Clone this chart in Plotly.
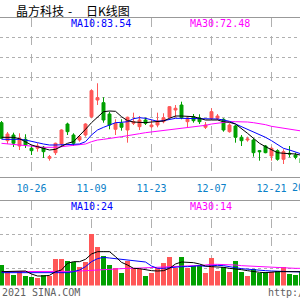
import plotly.graph_objects as go

# ---------------- data ----------------
idx = list(range(51))
tick_idx = [5, 15, 25, 35, 45]
tick_text = ["10-26", "11-09", "11-23", "12-07", "12-21"]

opens = [73.58, 69.08, 70.50, 67.75, 69.43, 67.18, 67.18, 67.43, 64.68, 66.08,
         68.25, 73.25, 70.50, 69.25, 70.50, 75.08, 79.25, 78.58, 75.75, 71.93,
         73.43, 71.75, 73.43, 72.58, 74.25, 72.58, 73.00, 73.83, 74.93, 76.75,
         78.00, 73.83, 75.08, 74.75, 72.43, 74.68, 74.68, 74.43, 71.33, 72.75,
         69.93, 69.25, 69.25, 66.58, 67.75, 65.25, 66.58, 64.43, 65.93, 65.50,
         64.68]
closes = [69.68, 70.75, 68.43, 69.68, 68.00, 66.58, 67.75, 66.33, 65.08, 68.43,
          71.75, 71.33, 68.43, 70.08, 73.25, 81.58, 79.83, 74.25, 73.00, 73.43,
          72.43, 74.93, 73.83, 74.25, 73.43, 73.00, 74.00, 74.83, 77.58, 77.18,
          74.83, 74.43, 74.08, 73.83, 73.00, 76.33, 75.25, 71.75, 73.00, 69.93,
          69.08, 69.50, 66.08, 66.33, 66.08, 67.18, 64.43, 66.33, 65.75, 64.93,
          63.50]
highs = [74.00, 71.25, 71.08, 70.93, 70.68, 67.75, 68.43, 67.75, 65.50, 68.58,
         71.93, 73.58, 70.93, 70.50, 73.43, 81.93, 83.43, 79.93, 76.33, 74.43,
         74.43, 75.08, 76.08, 75.25, 74.83, 74.25, 76.08, 75.93, 77.75, 78.00,
         78.83, 75.08, 75.75, 75.68, 73.75, 77.18, 75.75, 74.68, 73.43, 73.00,
         70.50, 70.08, 69.68, 66.75, 68.00, 67.58, 66.93, 66.93, 67.75, 66.08,
         65.25]
lows = [69.50, 68.25, 67.50, 66.75, 67.25, 65.50, 66.33, 64.75, 64.08, 65.50,
        67.75, 70.50, 67.75, 68.83, 70.08, 74.68, 78.00, 73.58, 71.93, 70.50,
        71.58, 68.58, 73.00, 71.75, 73.00, 72.18, 72.43, 73.43, 74.68, 74.93,
        74.43, 72.43, 73.58, 73.25, 72.00, 74.25, 74.25, 71.33, 71.08, 68.58,
        67.75, 68.83, 65.08, 64.08, 65.93, 64.08, 64.08, 63.25, 64.93, 64.43,
        63.00]

ma5 = [69.92, 69.92, 69.92, 69.58, 68.83, 68.00, 67.58, 67.17, 66.75, 66.92,
       67.75, 68.42, 68.83, 70.25, 71.92, 73.58, 74.92, 76.33, 76.50, 76.42,
       75.08, 74.08, 73.75, 73.58, 73.58, 73.75, 73.92, 74.00, 74.67, 75.25,
       75.25, 75.25, 75.08, 74.67, 74.25, 74.25, 74.25, 73.83, 73.67, 73.25,
       72.17, 70.92, 69.67, 68.42, 67.58, 66.75, 66.08, 65.92, 65.92, 65.75,
       65.42]
ma10 = [69.42, 69.42, 69.58, 69.42, 69.25, 68.83, 68.58, 68.25, 68.00, 68.00,
        68.00, 68.08, 68.17, 68.25, 68.83, 70.50, 71.75, 72.42, 73.00, 73.58,
        73.67, 73.83, 74.58, 74.83, 74.67, 74.25, 73.92, 74.08, 74.42, 74.67,
        74.67, 74.67, 74.58, 74.50, 74.67, 74.58, 74.50, 74.25, 73.92, 73.25,
        72.58, 71.92, 71.33, 70.58, 69.92, 69.08, 68.08, 67.17, 66.75, 66.17,
        65.75]
ma30 = [68.42, 68.25, 68.17, 67.92, 67.75, 67.58, 67.58, 67.42, 67.33, 67.42,
        67.58, 67.75, 67.92, 68.00, 68.25, 68.83, 69.25, 69.42, 69.58, 69.83,
        70.08, 70.33, 70.67, 70.83, 71.08, 71.25, 71.50, 71.67, 71.92, 72.08,
        72.17, 72.33, 72.50, 72.67, 72.92, 73.25, 73.50, 73.67, 73.83, 73.83,
        73.83, 73.75, 73.58, 73.42, 73.08, 72.67, 72.42, 72.17, 71.92, 71.67,
        71.50]

volume = [12.06, 8.12, 6.18, 8.12, 5.59, 4.82, 4.59, 6.18, 5.59, 15.59,
          15.59, 14.41, 14.00, 11.06, 14.00, 30.12, 22.82, 17.35, 12.06, 10.12,
          7.53, 14.41, 10.12, 9.53, 5.59, 7.53, 10.12, 13.41, 16.94, 10.12,
          16.94, 10.12, 11.65, 12.06, 7.53, 16.35, 8.71, 11.06, 8.12, 14.41,
          8.12, 5.59, 9.71, 7.53, 8.12, 8.12, 8.53, 11.06, 6.76, 6.18,
          7.94]
vma5 = [8.14, 8.14, 8.33, 8.53, 8.53, 6.76, 5.59, 5.59, 5.98, 8.14,
        9.12, 13.04, 14.02, 14.02, 15.39, 18.53, 19.90, 19.90, 19.90, 16.96,
        13.63, 12.06, 10.10, 9.90, 9.12, 8.73, 8.53, 8.73, 10.10, 12.65,
        13.82, 13.82, 13.43, 12.65, 11.47, 11.08, 11.08, 10.69, 10.10, 9.90,
        9.31, 8.73, 8.14, 7.75, 7.55, 7.94, 8.14, 8.14, 8.14, 8.14,
        8.14]
vma10 = [7.55, 7.55, 7.55, 7.35, 7.16, 7.16, 7.16, 7.16, 7.16, 7.55,
         7.55, 7.55, 8.14, 9.12, 11.08, 14.02, 15.78, 16.57, 16.18, 15.78,
         15.39, 15.20, 15.00, 14.41, 13.82, 11.47, 10.10, 10.10, 10.49, 10.88,
         11.08, 11.08, 11.47, 11.67, 11.27, 11.67, 11.86, 11.67, 11.27, 10.49,
         9.90, 9.51, 9.12, 8.92, 8.73, 8.53, 8.33, 8.33, 8.14, 8.14,
         7.94]
vma30 = [8.14, 8.14, 8.14, 8.14, 7.94, 7.94, 7.94, 7.94, 7.94, 7.94,
         8.14, 8.14, 8.33, 8.53, 8.73, 9.12, 9.51, 9.71, 9.90, 10.10,
         10.10, 10.10, 10.10, 10.29, 10.49, 10.69, 10.88, 11.08, 11.08, 11.27,
         11.47, 11.47, 11.67, 11.67, 12.25, 12.45, 12.45, 12.45, 12.25, 12.06,
         11.67, 11.47, 11.27, 11.08, 10.69, 10.49, 10.29, 10.10, 10.10, 10.10,
         10.10]

price_grid = [65, 70, 75, 80, 85, 90, 95]
vol_grid = [10, 20, 30, 40]

title_name = "晶方科技"
title_kind = "日K线图"
ma_price_labels = ["MA10:83.54", "MA30:72.48"]
ma_vol_labels = ["MA10:24", "MA30:14"]

# ---------------- style ----------------
RED = "#ff5757"
GREEN = "#00a000"
W, H = 300, 300
MONO = "DejaVu Sans Mono"


def px_x(p):
    return p / W


def px_y(p):
    return 1 - p / H


main_top, main_bot = 18, 176.5
vol_top, vol_bot = 201, 285.5

fig = go.Figure()

fig.add_trace(go.Candlestick(
    x=idx, open=opens, high=highs, low=lows, close=closes,
    increasing=dict(line=dict(color=RED, width=1), fillcolor=RED),
    decreasing=dict(line=dict(color=GREEN, width=1), fillcolor=GREEN),
    whiskerwidth=0, xaxis="x", yaxis="y", showlegend=False, hoverinfo="skip"))

for series, col in [(ma30, "#ff00ff"), (ma10, "#0000ff"), (ma5, "#000000")]:
    fig.add_trace(go.Scatter(x=idx, y=series, mode="lines",
                             line=dict(color=col, width=1),
                             xaxis="x", yaxis="y", showlegend=False, hoverinfo="skip"))

vol_colors = [RED if c >= o else GREEN for o, c in zip(opens, closes)]
fig.add_trace(go.Bar(x=idx, y=volume, width=0.82, marker=dict(color=vol_colors, line=dict(width=0)),
                     xaxis="x2", yaxis="y2", showlegend=False, hoverinfo="skip"))
for series, col in [(vma30, "#ff00ff"), (vma10, "#0000ff"), (vma5, "#000000")]:
    fig.add_trace(go.Scatter(x=idx, y=series, mode="lines",
                             line=dict(color=col, width=1),
                             xaxis="x2", yaxis="y2", showlegend=False, hoverinfo="skip"))

xr = [-0.25, 49.75]
grid_col = "#b0b0b0"
line_col = "#999999"
price_lo = 104.25 - main_bot / 4
price_hi = 104.25 - main_top / 4
vol_hi = (vol_bot - vol_top) / 1.7

fig.update_layout(
    width=W, height=H, autosize=False,
    margin=dict(l=0, r=0, t=0, b=0),
    paper_bgcolor="white", plot_bgcolor="white",
    boxgap=0.3,
    bargap=0,
    xaxis=dict(domain=[0, 1], range=xr, anchor="y", rangeslider=dict(visible=False),
               tickvals=tick_idx, ticktext=tick_text, ticks="",
               tickfont=dict(family=MONO, size=10, color="#0a80c8"),
               ticklabelstandoff=2,
               showgrid=True, gridcolor=grid_col, griddash="dash", gridwidth=1,
               showline=True, linecolor=line_col, linewidth=1, mirror=True,
               zeroline=False, fixedrange=True),
    yaxis=dict(domain=[px_y(main_bot), px_y(main_top)], range=[price_lo, price_hi],
               tickvals=price_grid, showticklabels=False, ticks="",
               showgrid=True, gridcolor=grid_col, griddash="dot", gridwidth=1,
               zeroline=False, showline=False, fixedrange=True),
    xaxis2=dict(domain=[0, 1], range=xr, anchor="y2", side="top",
                tickvals=tick_idx, showticklabels=False, ticks="",
                showgrid=True, gridcolor=grid_col, griddash="dash", gridwidth=1,
                showline=True, linecolor=line_col, linewidth=1,
                zeroline=False, fixedrange=True),
    yaxis2=dict(domain=[px_y(vol_bot), px_y(vol_top)], range=[0, vol_hi],
                tickvals=vol_grid, showticklabels=False, ticks="",
                showgrid=True, gridcolor=grid_col, griddash="dot", gridwidth=1,
                zeroline=False, showline=False, fixedrange=True),
)


def ann(text, x, y, color="#000000", size=10, family=MONO, anchor="left"):
    fig.add_annotation(text=text, x=px_x(x), y=px_y(y), xref="paper", yref="paper",
                       xanchor=anchor, yanchor="middle", showarrow=False,
                       font=dict(family=family, size=size, color=color))


CJK = "Noto Sans CJK SC"
ann(title_name, 14, 11, size=12, family=CJK)
ann("-", 69.5, 11, size=12, family=CJK, anchor="center")
ann(title_kind, 84, 11, size=12, family=CJK)

ann(ma_price_labels[0], 69, 23.5, color="#0000ff")
ann(ma_price_labels[1], 188, 23.5, color="#ff00ff")
ann(ma_vol_labels[0], 69, 206.5, color="#0000ff")
ann(ma_vol_labels[1], 188, 206.5, color="#ff00ff")

ann("20", 290, 187, color="#0a80c8")
ann("2021 SINA.COM", 0, 292.5, color="#606060")
ann("http:/", 266, 292.5, color="#606060")

fig.write_html("out.html")
